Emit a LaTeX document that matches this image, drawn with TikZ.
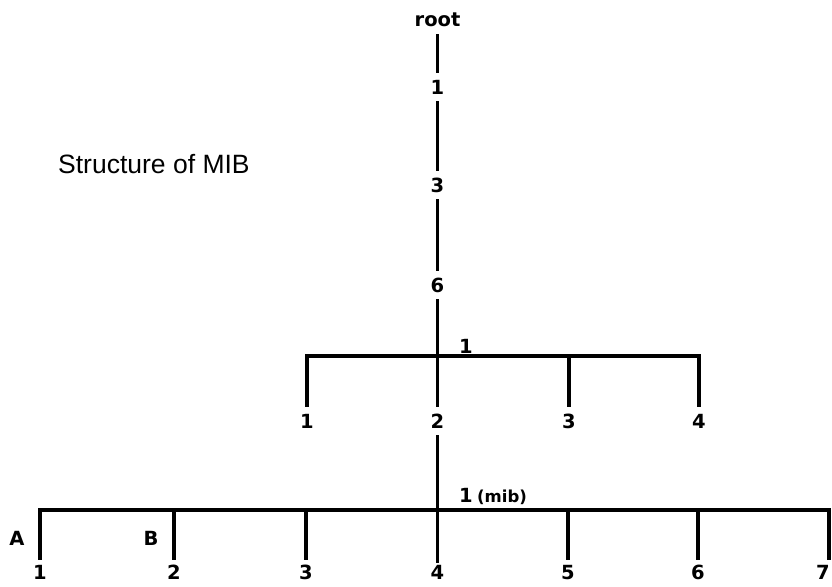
\documentclass[tikz,border=0pt]{standalone}
\usepackage{fontspec}
\setmainfont{Liberation Sans}
\newfontfamily\lblfont{DejaVu Sans}
\tikzset{
  lbl/.style={font=\fontsize{19.5}{19.5}\selectfont\lblfont\bfseries,
    inner xsep=2pt, inner ysep=7pt, text height=14pt, text depth=0pt},
  leaf/.style={lbl, inner xsep=0pt, inner ysep=1.5pt},
  tag/.style={lbl, anchor=base west, inner sep=0pt},
  bar/.style={line width=3.2pt}
}
\begin{document}
\begin{tikzpicture}[x=1pt,y=-1pt]
\useasboundingbox (0,0) rectangle (832,586);
\node[anchor=base west, inner sep=0pt, font=\fontsize{26.5}{27}\selectfont] (title) at (58,173) {Structure of MIB};
% trunk
\node[lbl] (root) at (437.5,20) {root};
\node[lbl] (n1) at (437.5,87) {1};
\node[lbl] (n3) at (437.5,185) {3};
\node[lbl] (n6) at (437.5,285) {6};
\draw[bar] (root) -- (n1);
\draw[bar] (n1) -- (n3);
\draw[bar] (n3) -- (n6);
% first level
\coordinate (j1) at (437.5,356);
\foreach \x/\t [count=\i] in {307/1,437.5/2,569/3,699/4}
  \node[lbl] (a\i) at (\x,421) {\t};
\node[tag] (k1) at (459,353) {1};
\draw[bar] (n6) -- (a2);
\draw[bar] (a1) |- (j1) -| (a4);
\draw[bar] (a3) -- (a3 |- j1);
% second level (mib)
\coordinate (j2) at (437.5,510);
\coordinate (e7) at (829,560);
\foreach \x/\t [count=\i] in {40/1,174/2,306/3,437.5/4,568/5,698/6,823/7}
  \node[leaf] (b\i) at (\x,572) {\t};
\node[tag] (k2) at (459,502) {1};
\node[tag, font=\fontsize{16.5}{16.5}\selectfont\lblfont\bfseries] (mib) at ([xshift=4pt]k2.base east) {(mib)};
\draw[bar] (a2) -- (b4);
\draw[bar, shorten <=3.5pt] (b1) |- (j2) -- (j2 -| e7) -- (e7);
\foreach \i in {2,3,5,6}
  \draw[bar, shorten <=3.5pt] (b\i) -- (b\i |- j2);
\node[lbl] (la) at (17,538) {A};
\node[lbl] (lb) at (151,538) {B};
\end{tikzpicture}
\end{document}
